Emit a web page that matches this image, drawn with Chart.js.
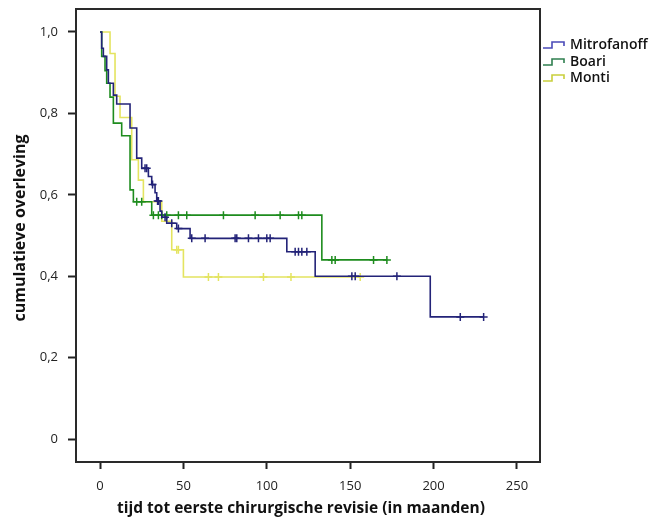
<!DOCTYPE html>
<html lang="nl">
<head>
<meta charset="UTF-8">
<title>Cumulatieve overleving</title>
<script src="https://cdn.jsdelivr.net/npm/chart.js@4.4.0/dist/chart.umd.min.js"></script>
<style>
    html, body { margin: 0; padding: 0; background: #fff; }
    #wrap { width: 660px; height: 519px; position: relative; }
</style>
</head>
<body>
<div id="wrap"><canvas id="kmChart"></canvas></div>
<script>
// series names + colours
var seriesNames = ['Mitrofanoff', 'Boari', 'Monti'];
var lineColors = ['#232378', '#1e8c1e', '#e4e460'];
var legendColors = ['#4a4ab8', '#2f7f4f', '#c9cf3c'];

// Kaplan-Meier steps (time in months, survival after the drop)
var mitroTimes = [0, 1, 2, 4, 5, 8, 10, 18, 22, 25, 29, 31, 33, 34, 36, 37, 40, 46, 54, 112, 129, 198];
var mitroSurv = [1.0, 0.96, 0.94, 0.907, 0.874, 0.845, 0.823, 0.764, 0.69, 0.665, 0.645, 0.625, 0.605, 0.585, 0.56, 0.545, 0.53, 0.517, 0.493, 0.46, 0.40, 0.30];
var mitroCensor = [27, 28, 31.5, 34.5, 35, 39, 43, 47, 55, 63, 81, 82, 89, 95, 100, 102, 117, 119, 121, 124, 151, 153, 178, 216, 230];

var boariTimes = [0, 1, 3, 4, 6, 8, 13, 18, 20, 31, 133];
var boariSurv = [1.0, 0.94, 0.905, 0.874, 0.84, 0.776, 0.745, 0.612, 0.583, 0.55, 0.44];
var boariCensor = [22, 25, 32, 35, 37, 40, 47, 52, 74, 93, 108, 119, 121, 139, 141, 164, 172];

var montiTimes = [0, 6, 9, 12, 19, 23, 26, 37, 43, 50];
var montiSurv = [1.0, 0.947, 0.842, 0.79, 0.686, 0.636, 0.583, 0.535, 0.465, 0.398];
var montiCensor = [46, 47, 65, 71, 98, 114.5, 156];

// axes
var xTickValues = [0, 50, 100, 150, 200, 250];
var yTickValues = [0, 0.2, 0.4, 0.6, 0.8, 1.0];
var yTickLabels = ['0', '0,2', '0,4', '0,6', '0,8', '1,0'];
var xTitle = 'tijd tot eerste chirurgische revisie (in maanden)';
var yTitle = 'cumulatieve overleving';

var allTimes = [mitroTimes, boariTimes, montiTimes];
var allSurv = [mitroSurv, boariSurv, montiSurv];
var allCensor = [mitroCensor, boariCensor, montiCensor];

function survAt(times, surv, t) {
    var s = surv[0];
    for (var i = 0; i < times.length; i++) {
        if (times[i] <= t) s = surv[i];
    }
    return s;
}

var datasets = [];
var drawOrder = [1, 2, 3];
for (var k = 0; k < seriesNames.length; k++) {
    var pts = [];
    for (var i = 0; i < allTimes[k].length; i++) {
        pts.push({ x: allTimes[k][i], y: allSurv[k][i] });
    }
    var lastT = Math.max.apply(null, allCensor[k]);
    pts.push({ x: lastT, y: survAt(allTimes[k], allSurv[k], lastT) });
    datasets.push({
        label: seriesNames[k],
        data: pts,
        stepped: true,
        borderColor: lineColors[k],
        borderWidth: 1.6,
        pointRadius: 0,
        fill: false,
        order: drawOrder[k] * 2
    });
    var cens = allCensor[k].map(function (c) {
        return { x: c, y: survAt(allTimes[k], allSurv[k], c) };
    });
    datasets.push({
        label: seriesNames[k] + ' censored',
        data: cens,
        showLine: false,
        pointStyle: 'cross',
        pointRadius: 4,
        pointBorderWidth: 1.5,
        borderColor: lineColors[k],
        backgroundColor: lineColors[k],
        order: drawOrder[k] * 2 - 1
    });
}

var fontFam = '"Open Sans", "Liberation Sans", sans-serif';

// frame, axis titles and legend
var extras = {
    id: 'extras',
    afterDraw: function (chart) {
        var ctx = chart.ctx;
        var a = chart.chartArea;
        ctx.save();
        ctx.strokeStyle = '#2a2a2a';
        ctx.lineWidth = 2;
        ctx.strokeRect(a.left, a.top, a.right - a.left, a.bottom - a.top);

        ctx.fillStyle = '#111';
        ctx.font = 'bold 15.5px ' + fontFam;
        ctx.textAlign = 'center';
        ctx.textBaseline = 'middle';
        ctx.fillText(xTitle, 301, 509);
        ctx.font = 'bold 16px ' + fontFam;
        ctx.translate(20, 228);
        ctx.rotate(-Math.PI / 2);
        ctx.fillText(yTitle, 0, 0);
        ctx.restore();

        ctx.save();
        var ly = [45, 62, 78];
        for (var k = 0; k < seriesNames.length; k++) {
            var y = ly[k];
            ctx.strokeStyle = legendColors[k];
            ctx.lineWidth = 1.6;
            ctx.beginPath();
            ctx.moveTo(543, y + 3);
            ctx.lineTo(552, y + 3);
            ctx.lineTo(552, y - 3);
            ctx.lineTo(564, y - 3);
            ctx.lineTo(564, y + 1);
            ctx.stroke();
            ctx.fillStyle = '#111';
            ctx.font = '600 14px ' + fontFam;
            ctx.textAlign = 'left';
            ctx.textBaseline = 'middle';
            ctx.fillText(seriesNames[k], 570, y);
        }
        ctx.restore();
    }
};

new Chart(document.getElementById('kmChart'), {
    type: 'line',
    data: { datasets: datasets },
    options: {
        responsive: true,
        maintainAspectRatio: false,
        animation: false,
        layout: { padding: { top: 9, right: 120, bottom: 0, left: 0 } },
        plugins: { legend: { display: false }, tooltip: { enabled: false } },
        scales: {
            x: {
                type: 'linear',
                min: -14.4,
                max: 263.8,
                afterBuildTicks: function (s) { s.ticks = xTickValues.map(function (v) { return { value: v }; }); },
                afterFit: function (s) { s.height = 57; s.paddingLeft = 0; s.paddingRight = 0; },
                grid: { drawOnChartArea: false, drawTicks: true, tickLength: 7, tickWidth: 2, tickColor: '#222' },
                border: { display: false },
                ticks: { color: '#222', padding: 9, font: { family: fontFam, size: 13 }, maxRotation: 0 }
            },
            y: {
                type: 'linear',
                min: -0.0565,
                max: 1.0565,
                afterBuildTicks: function (s) { s.ticks = yTickValues.map(function (v) { return { value: v }; }); },
                afterFit: function (s) { s.width = 76; s.paddingTop = 0; s.paddingBottom = 0; },
                grid: { drawOnChartArea: false, drawTicks: true, tickLength: 8, tickWidth: 2, tickColor: '#222' },
                border: { display: false },
                ticks: {
                    color: '#222', padding: 10, font: { family: fontFam, size: 13 },
                    callback: function (v) { return yTickLabels[yTickValues.indexOf(v)]; }
                }
            }
        }
    },
    plugins: [extras]
});
</script>
</body>
</html>
